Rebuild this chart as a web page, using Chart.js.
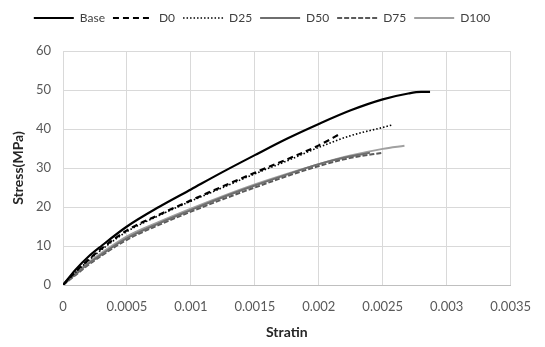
<!DOCTYPE html>
<html>
<head>
<meta charset="utf-8">
<script src="https://cdn.jsdelivr.net/npm/chart.js@4.4.1/dist/chart.umd.min.js"></script>
<style>
  html, body { margin: 0; padding: 0; background: #fff; }
  #wrap { width: 545px; height: 347px; }
</style>
</head>
<body>
<div id="wrap"><canvas id="chart"></canvas></div>
<script>
// strain / stress readings per mix
const baseStrain = [0, 0.0001, 0.0002, 0.0003, 0.0005, 0.00075, 0.001, 0.00125, 0.0015, 0.00175, 0.002, 0.00225, 0.0025, 0.0027, 0.0028, 0.00287];
const baseStress = [0, 4, 7.3, 10, 15, 20, 24.5, 29, 33.3, 37.5, 41.3, 44.8, 47.6, 49.1, 49.5, 49.5];

const d0Strain = [0, 0.0001, 0.0002, 0.0003, 0.0005, 0.00075, 0.001, 0.00125, 0.0015, 0.00175, 0.002, 0.00217];
const d0Stress = [0, 3.5, 6.5, 9.3, 14, 18, 21.7, 25.3, 28.8, 32.2, 35.8, 38.8];

const d25Strain = [0, 0.0001, 0.0002, 0.0003, 0.0005, 0.00075, 0.001, 0.00125, 0.0015, 0.00175, 0.002, 0.00225, 0.0025, 0.00257];
const d25Stress = [0, 3.3, 6.3, 9, 13.7, 17.8, 21.5, 25, 28.5, 31.8, 35.3, 38.3, 40.4, 41];

const d50Strain = [0, 0.0001, 0.0002, 0.0003, 0.0005, 0.00075, 0.001, 0.00125, 0.0015, 0.00175, 0.002, 0.00225, 0.0024];
const d50Stress = [0, 2.8, 5.5, 7.8, 12, 15.8, 19.2, 22.5, 25.5, 28.3, 31, 33, 33.9];

const d75Strain = [0, 0.0001, 0.0002, 0.0003, 0.0005, 0.00075, 0.001, 0.00125, 0.0015, 0.00175, 0.002, 0.00225, 0.0025];
const d75Stress = [0, 2.6, 5.2, 7.5, 11.6, 15.4, 18.8, 22, 25, 27.9, 30.5, 32.6, 33.9];

const d100Strain = [0, 0.0001, 0.0002, 0.0003, 0.0005, 0.00075, 0.001, 0.00125, 0.0015, 0.00175, 0.002, 0.00225, 0.0025, 0.00267];
const d100Stress = [0, 3, 5.8, 8.2, 12.5, 16.2, 19.6, 22.8, 25.8, 28.5, 31, 33.2, 34.9, 35.7];

const seriesNames = ['Base', 'D0', 'D25', 'D50', 'D75', 'D100'];

function pts(xs, ys) {
  return xs.map((x, i) => ({ x, y: ys[i] }));
}

function series(label, xs, ys, color, width, dash) {
  return {
    label,
    data: pts(xs, ys),
    borderColor: color,
    backgroundColor: color,
    borderWidth: width,
    borderDash: dash,
    pointRadius: 0,
    fill: false,
    cubicInterpolationMode: 'monotone'
  };
}

// legend items drawn as line samples carrying the dataset dash pattern
function legendLabels(chart) {
  return chart.data.datasets.map((ds, i) => ({
    text: ds.label,
    datasetIndex: i,
    fillStyle: ds.borderColor,
    strokeStyle: ds.borderColor,
    lineWidth: ds.borderWidth,
    lineDash: ds.borderDash,
    lineCap: 'butt',
    pointStyle: 'line',
    fontColor: '#404040',
    hidden: false
  }));
}

// extra room under the legend so the plot starts lower
const legendGap = {
  id: 'legendGap',
  afterInit(chart) {
    const fit = chart.legend.fit;
    chart.legend.fit = function () {
      fit.call(this);
      this.height += 17;
    };
  }
};

Chart.defaults.font.family = 'Lato, "Open Sans", sans-serif';
Chart.defaults.animation = false;

new Chart(document.getElementById('chart'), {
  type: 'line',
  data: {
    datasets: [
      series(seriesNames[0], baseStrain, baseStress, '#000000', 2.2, []),
      series(seriesNames[1], d0Strain, d0Stress, '#000000', 2.2, [6, 4]),
      series(seriesNames[2], d25Strain, d25Stress, '#000000', 1.6, [1.5, 2]),
      series(seriesNames[3], d50Strain, d50Stress, '#6e6e6e', 2, []),
      series(seriesNames[4], d75Strain, d75Stress, '#5a5a5a', 2, [5, 2]),
      series(seriesNames[5], d100Strain, d100Stress, '#a0a0a0', 2, [])
    ]
  },
  plugins: [legendGap],
  options: {
    responsive: true,
    maintainAspectRatio: false,
    layout: { padding: { top: 4, right: 21, bottom: 0, left: 0 } },
    plugins: {
      legend: {
        position: 'top',
        labels: {
          usePointStyle: true,
          pointStyleWidth: 40,
          boxHeight: 12,
          padding: 8,
          color: '#404040',
          font: { size: 12 },
          generateLabels: legendLabels
        }
      },
      tooltip: { enabled: false }
    },
    scales: {
      x: {
        type: 'linear',
        min: 0,
        max: 0.0035,
        afterFit: (scale) => { scale.height = 62; },
        ticks: {
          stepSize: 0.0005,
          padding: 14,
          color: '#595959',
          font: { size: 13 },
          maxRotation: 0,
          callback: (v) => String(Number(v.toFixed(4)))
        },
        grid: { color: '#d9d9d9', drawTicks: false },
        border: { color: '#bfbfbf' },
        title: {
          display: true,
          text: 'Stratin',
          color: '#262626',
          font: { size: 14, weight: 'bold' },
          padding: { top: 0, bottom: 6 }
        }
      },
      y: {
        min: 0,
        max: 60,
        afterFit: (scale) => { scale.width = 63; },
        ticks: {
          stepSize: 10,
          padding: 12,
          color: '#595959',
          font: { size: 13 }
        },
        grid: { color: '#d9d9d9', drawTicks: false },
        border: { color: '#d9d9d9' },
        title: {
          display: true,
          text: 'Stress(MPa)',
          color: '#262626',
          font: { size: 14, weight: 'bold' },
          padding: { top: 10, bottom: 0 }
        }
      }
    }
  }
});
</script>
</body>
</html>
